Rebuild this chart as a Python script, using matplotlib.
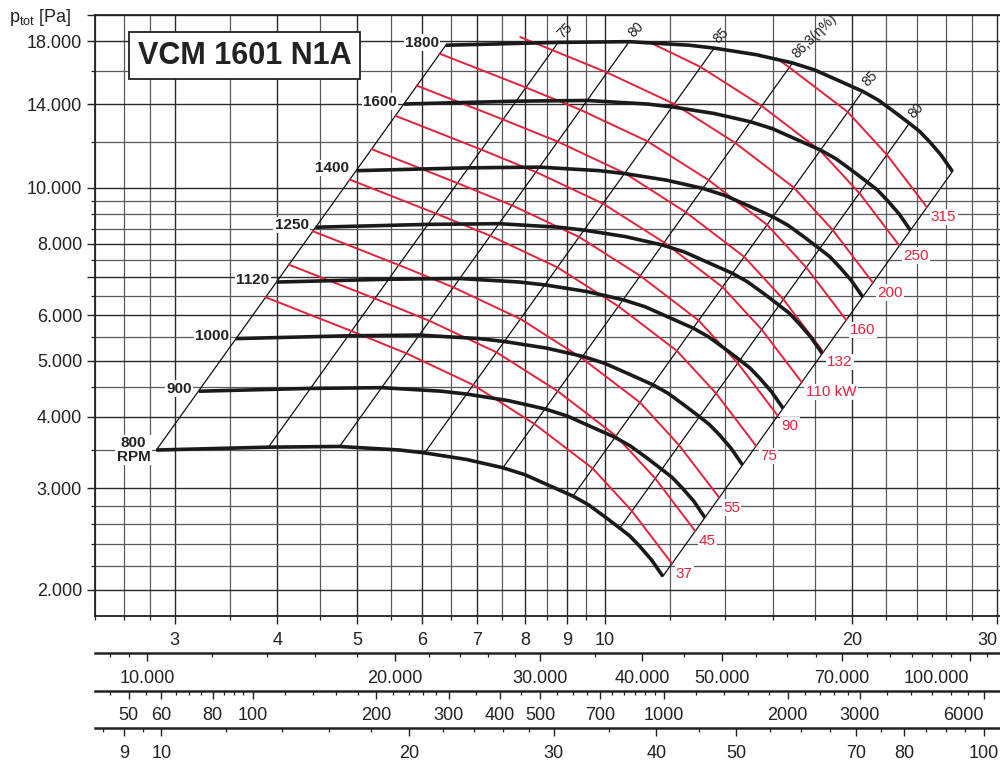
import matplotlib
matplotlib.use('Agg')
import matplotlib.pyplot as plt
from matplotlib.ticker import FixedLocator, FixedFormatter, NullFormatter

plt.rcParams['font.family'] = ['Liberation Sans', 'DejaVu Sans']
plt.rcParams['mathtext.fontset'] = 'custom'
plt.rcParams['mathtext.rm'] = 'Liberation Sans'

RED = '#e4223b'

# fan curves: volume flow [m3/s] / total pressure [Pa]
rpm_labels = ['800\nRPM', '900', '1000', '1120', '1250', '1400', '1600', '1800']
q_800 = [2.85, 3.90, 4.76, 5.63, 6.04, 6.79, 7.52, 8.00, 8.50, 9.15, 9.55, 10.0, 10.43,
         10.73, 11.03, 11.40, 11.77]
p_800 = [3500, 3540, 3550, 3500, 3460, 3370, 3260, 3170, 3050, 2910, 2812, 2680, 2560,
         2480, 2380, 2254, 2110]
q_900 = [3.21, 4.39, 5.36, 6.33, 6.80, 7.64, 8.46, 9.00, 9.56, 10.29, 10.74, 11.25, 11.73,
         12.07, 12.41, 12.83, 13.24]
p_900 = [4430, 4480, 4493, 4430, 4379, 4265, 4126, 4012, 3860, 3683, 3559, 3392, 3240,
         3139, 3012, 2853, 2670]
q_1000 = [3.56, 4.88, 5.95, 7.04, 7.55, 8.49, 9.40, 10.0, 10.63, 11.44, 11.94, 12.50,
          13.04, 13.41, 13.79, 14.25, 14.71]
p_1000 = [5469, 5531, 5547, 5469, 5406, 5266, 5094, 4953, 4766, 4547, 4394, 4188, 4000,
          3875, 3719, 3522, 3297]
q_1120 = [3.99, 5.46, 6.66, 7.88, 8.46, 9.51, 10.53, 11.20, 11.90, 12.81, 13.37, 14.00,
          14.60, 15.02, 15.44, 15.96, 16.48]
p_1120 = [6860, 6938, 6958, 6860, 6782, 6605, 6390, 6213, 5978, 5704, 5512, 5253, 5018,
          4861, 4665, 4418, 4136]
q_1250 = [4.45, 6.09, 7.44, 8.80, 9.44, 10.61, 11.75, 12.50, 13.28, 14.30, 14.92, 15.63,
          16.30, 16.77, 17.23, 17.81, 18.39]
p_1250 = [8545, 8643, 8667, 8545, 8447, 8228, 7959, 7739, 7446, 7104, 6865, 6543, 6250,
          6055, 5811, 5503, 5151]
q_1400 = [4.99, 6.83, 8.33, 9.85, 10.57, 11.88, 13.16, 14.00, 14.88, 16.01, 16.71, 17.50,
          18.25, 18.78, 19.30, 19.95, 20.60]
p_1400 = [10719, 10841, 10872, 10719, 10596, 10321, 9984, 9708, 9341, 8912, 8612, 8208,
          7840, 7595, 7289, 6903, 6462]
q_1600 = [5.70, 7.80, 9.52, 11.26, 12.08, 13.58, 15.04, 16.00, 17.00, 18.30, 19.10, 20.00,
          20.86, 21.46, 22.06, 22.80, 23.54]
p_1600 = [14000, 14160, 14200, 14000, 13840, 13480, 13040, 12680, 12200, 11640, 11248,
          10720, 10240, 9920, 9520, 9016, 8440]
q_1800 = [6.41, 8.78, 10.71, 12.67, 13.59, 15.28, 16.92, 18.00, 19.13, 20.59, 21.49, 22.50,
          23.47, 24.14, 24.82, 25.65, 26.48]
p_1800 = [17719, 17921, 17972, 17719, 17516, 17061, 16504, 16048, 15441, 14732, 14236,
          13568, 12960, 12555, 12049, 11411, 10682]

# efficiency lines (from 800 rpm curve to 1800 rpm curve)
eff_q_low = [2.85, 3.90, 4.76, 6.04, 7.52, 9.15, 10.43, 11.77]
eff_p_low = [3500, 3540, 3550, 3460, 3260, 2910, 2560, 2110]
eff_q_high = [6.41, 8.78, 10.71, 13.59, 16.92, 20.59, 23.47, 26.48]
eff_p_high = [17719, 17921, 17972, 17516, 16504, 14732, 12960, 10682]
eff_text = ['', '75', '80', '85', '86,3(η%)', '85', '80', '']

# shaft power lines [kW]
kw_labels = ['37', '45', '55', '75', '90', '110 kW', '132', '160', '200', '250', '315']
q_37 = [3.87, 4.92, 5.74, 6.92, 8.21, 9.67, 10.79, 12.07]
p_37 = [6455, 5638, 5155, 4543, 3887, 3251, 2742, 2221]
q_45 = [4.13, 5.25, 6.12, 7.39, 8.77, 10.32, 11.52, 12.88]
p_45 = [7355, 6424, 5874, 5176, 4429, 3704, 3124, 2531]
q_55 = [4.42, 5.62, 6.55, 7.90, 9.37, 11.04, 12.31, 13.78]
p_55 = [8408, 7344, 6714, 5917, 5063, 4234, 3571, 2893]
q_75 = [4.90, 6.23, 7.26, 8.76, 10.39, 12.24, 13.66, 15.28]
p_75 = [10340, 9031, 8257, 7277, 6226, 5207, 4392, 3558]
q_90 = [5.21, 6.62, 7.72, 9.31, 11.05, 13.01, 14.51, 16.23]
p_90 = [11680, 10200, 9325, 8218, 7032, 5881, 4960, 4018]
q_110 = [5.57, 7.08, 8.25, 9.95, 11.81, 13.91, 15.52, 17.36]
p_110 = [13350, 11660, 10660, 9395, 8039, 6723, 5671, 4593]
q_132 = [5.91, 7.52, 8.77, 10.58, 12.55, 14.78, 16.49, 18.44]
p_132 = [15070, 13160, 12040, 10610, 9075, 7590, 6402, 5186]
q_160 = [6.30, 8.02, 9.34, 11.27, 13.38, 15.76, 17.58, 19.66]
p_160 = [17130, 14960, 13680, 12060, 10320, 8627, 7276, 5894]
q_200 = [7.90, 8.64, 10.07, 12.15, 14.41, 16.98, 18.94, 21.19]
p_200 = [18300, 17370, 15880, 14000, 11980, 10020, 8448, 6843]
q_250 = [11.32, 13.08, 15.52, 18.28, 20.40, 22.82]
p_250 = [17950, 16240, 13890, 11620, 9800, 7938]
q_315 = [16.20, 16.77, 19.75, 22.03, 24.65]
p_315 = [16800, 16210, 13560, 11430, 9260]

# axis ticks
q_major = [3, 4, 5, 6, 7, 8, 9, 10, 20, 30]
q_major_labels = ['3', '4', '5', '6', '7', '8', '9', '10', '20', '30']
q_minor = [2.4, 2.6, 2.8, 3.5, 4.5, 5.5, 6.5, 7.5, 8.5, 9.5, 12, 14, 16, 18, 22, 24, 26, 28]
p_major = [2000, 3000, 4000, 5000, 6000, 7000, 8000, 10000, 14000, 18000, 20000]
p_major_labels = ['2.000', '3.000', '4.000', '5.000', '6.000', '', '8.000', '10.000',
                  '14.000', '18.000', '']
p_minor = [2200, 2400, 2600, 2800, 3500, 4500, 5500, 6500, 7500, 8500, 9000, 9500,
           12000, 16000]

m3h_major = [10000, 20000, 30000, 40000, 50000, 70000, 100000]
m3h_labels = ['10.000', '20.000', '30.000', '40.000', '50.000', '70.000', '100.000']
m3h_minor = [9000, 9500, 12000, 14000, 16000, 18000, 22000, 24000, 26000, 28000, 35000,
             45000, 55000, 60000, 65000, 75000, 80000, 85000, 90000, 95000, 105000]
pd_major = [50, 60, 80, 100, 200, 300, 400, 500, 700, 1000, 2000, 3000, 6000]
pd_labels = ['50', '60', '80', '100', '200', '300', '400', '500', '700', '1000', '2000',
             '3000', '6000']
pd_minor = [45, 55, 65, 70, 75, 85, 90, 95, 120, 140, 160, 180, 220, 240, 260, 280, 350,
            450, 550, 600, 650, 750, 800, 850, 900, 950, 1200, 1400, 1600, 1800, 2200,
            2400, 2600, 2800, 3500, 4000, 4500, 5000, 5500]
vel_major = [9, 10, 20, 30, 40, 50, 70, 80, 100]
vel_labels = ['9', '10', '20', '30', '40', '50', '70', '80', '100']
vel_minor = [8.5, 9.5, 12, 14, 16, 18, 22, 24, 26, 28, 35, 45, 55, 60, 65, 75, 85, 90, 95]

AREA = 0.289  # outlet area m2
XLIM = (2.4, 30.25)

fig = plt.figure(figsize=(10, 7.65), dpi=100)
ax = fig.add_axes([0.095, 0.1948, 0.905, 0.7856])
ax.set_xscale('log')
ax.set_yscale('log')
ax.set_xlim(*XLIM)
ax.set_ylim(1800, 20000)

ax.xaxis.set_major_locator(FixedLocator(q_major))
ax.xaxis.set_major_formatter(FixedFormatter(q_major_labels))
ax.xaxis.set_minor_locator(FixedLocator(q_minor))
ax.xaxis.set_minor_formatter(NullFormatter())
ax.yaxis.set_major_locator(FixedLocator(p_major))
ax.yaxis.set_major_formatter(FixedFormatter(p_major_labels))
ax.yaxis.set_minor_locator(FixedLocator(p_minor))
ax.yaxis.set_minor_formatter(NullFormatter())
ax.grid(which='major', color='#2a2a2a', lw=1.0)
ax.grid(which='minor', color='#5a5a5a', lw=0.9)
ax.set_axisbelow(True)
ax.tick_params(which='major', direction='out', length=5.8, width=1.0, labelsize=13,
               pad=3.5, colors='#222222')
ax.tick_params(axis='x', which='major', pad=5.5)
ax.tick_params(which='minor', direction='out', length=2.8, width=0.9, colors='#222222')
ax.spines['right'].set_visible(False)
for s in ['left', 'bottom', 'top']:
    ax.spines[s].set_linewidth(1.3)
    ax.spines[s].set_color('#222222')
ax.get_xticklabels()[-1].set_horizontalalignment('right')

# efficiency lines
for i in range(len(eff_q_low)):
    ax.plot([eff_q_low[i], eff_q_high[i]], [eff_p_low[i], eff_p_high[i]],
            color='#111111', lw=0.9, zorder=2)
    if eff_text[i]:
        ax.annotate(eff_text[i], xy=(eff_q_high[i], eff_p_high[i]), xytext=(1.1, 4.8),
                    textcoords='offset points', rotation=45, rotation_mode='anchor',
                    ha='left', va='center', fontsize=10, color='#222222', zorder=6)

# power lines
red_lines = [(q_37, p_37), (q_45, p_45), (q_55, p_55), (q_75, p_75), (q_90, p_90),
             (q_110, p_110), (q_132, p_132), (q_160, p_160), (q_200, p_200),
             (q_250, p_250), (q_315, p_315)]
for (q, p), lab in zip(red_lines, kw_labels):
    ax.plot(q, p, color=RED, lw=1.4, zorder=3)
    ax.annotate(lab, xy=(q[-1], p[-1]), xytext=(2.9, -7.2), textcoords='offset points',
                ha='left', va='center', fontsize=11, color=RED, zorder=7,
                bbox=dict(boxstyle='square,pad=0.08', fc='white', ec='none'))

# fan curves
fan_curves = [(q_800, p_800), (q_900, p_900), (q_1000, p_1000), (q_1120, p_1120),
              (q_1250, p_1250), (q_1400, p_1400), (q_1600, p_1600), (q_1800, p_1800)]
for (q, p), lab in zip(fan_curves, rpm_labels):
    ax.plot(q, p, color='#1a1a1a', lw=2.6, zorder=4, solid_capstyle='butt',
            solid_joinstyle='round')
    off = (-4.3, 0) if '\n' in lab else (-5, 1.8)
    ax.annotate(lab, xy=(q[0], p[0]), xytext=off, textcoords='offset points',
                ha='right', va='center', multialignment='center', linespacing=0.95,
                fontsize=11, fontweight='bold', color='#222222', zorder=7,
                bbox=dict(boxstyle='square,pad=0.08', fc='white', ec='none'))

# title box and axis label
fig.text(0.2445, 1 - 55.5 / 765, 'VCM 1601 N1A', ha='center', va='center', fontsize=22,
         fontweight='bold', color='#222222',
         bbox=dict(boxstyle='square,pad=0.28', fc='white', ec='#222222', lw=1.3))
fig.text(0.009, 1 - 17 / 765, r'p$_{\rm tot}$ [Pa]', ha='left', va='center',
         fontsize=13, color='#222222')


# secondary flow scales below the chart
def add_scale(ypix, major, labels, minor, to_q, last_right=False):
    a = fig.add_axes([0.095, 1 - ypix / 765, 0.905, 0.0001])
    a.set_xscale('log')
    a.set_xlim(*XLIM)
    a.patch.set_visible(False)
    for s in ['top', 'left', 'right']:
        a.spines[s].set_visible(False)
    a.spines['bottom'].set_linewidth(1.8)
    a.spines['bottom'].set_color('#222222')
    a.set_yticks([])
    a.xaxis.set_major_locator(FixedLocator([to_q(v) for v in major]))
    a.xaxis.set_major_formatter(FixedFormatter(labels))
    a.xaxis.set_minor_locator(FixedLocator([to_q(v) for v in minor]))
    a.xaxis.set_minor_formatter(NullFormatter())
    a.tick_params(which='major', direction='out', length=5.8, width=1.0, labelsize=13,
                  pad=6, colors='#222222')
    a.tick_params(which='minor', direction='out', length=3.2, width=0.9, colors='#222222')
    if last_right:
        # keep the last label inside the picture
        a.get_xticklabels()[-1].set_horizontalalignment('right')
    return a


add_scale(653.3, m3h_major, m3h_labels, m3h_minor, lambda v: v / 3600, True)
add_scale(691, pd_major, pd_labels, pd_minor, lambda v: AREA * (v / 0.6) ** 0.5, True)
add_scale(728.3, vel_major, vel_labels, vel_minor, lambda v: v * AREA)

fig.savefig('out.png', dpi=100)
